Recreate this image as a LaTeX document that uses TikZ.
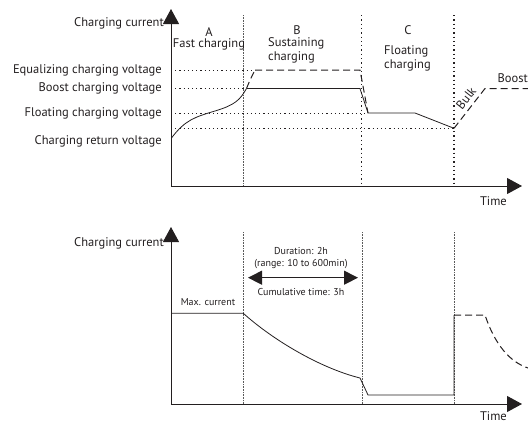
\documentclass[tikz,border=0pt]{standalone}
\usepackage{fontspec}
\setmainfont{PT Sans}
\usetikzlibrary{arrows.meta,calc,positioning}
\definecolor{ink}{HTML}{231F20}
\definecolor{muted}{HTML}{5A5A5A}
\tikzset{
  lbl/.style={font=\fontsize{12.5}{14}\selectfont,text=ink,inner sep=0pt},
  note/.style={font=\fontsize{10}{12.3}\selectfont,text=ink,inner sep=0pt},
  axis/.style={-{Triangle[length=15pt,width=16pt]},line width=1pt,draw=ink},
  curve/.style={line width=0.8pt,draw=ink},
  dashcurve/.style={line width=1pt,draw=ink,dash pattern=on 7pt off 4pt},
  level/.style={draw=ink,line width=0.8pt,dash pattern=on 1.2pt off 3pt},
  phase/.style={draw=ink,line width=1.3pt,dash pattern=on 1.3pt off 3pt},
  finephase/.style={draw=muted,line width=0.4pt,dash pattern=on 0.6pt off 1pt},
  span/.style={{Triangle[length=14pt,width=14pt]}-{Triangle[length=14pt,width=14pt]},line width=1pt,draw=ink}
}
\begin{document}
\begin{tikzpicture}[x=1pt,y=-1pt]
  \useasboundingbox (0,0) rectangle (528,423);
  % upper chart: voltage levels
  \coordinate (o1) at (171,186);
  \coordinate (ab1) at (243.3,15);
  \coordinate (bc1) at (361.7,15);
  \coordinate (cd1) at (454,15);
  \draw[finephase] (ab1) -- (ab1 |- o1);
  \draw[phase] (bc1) -- (bc1 |- o1);
  \draw[phase] (cd1) -- (cd1 |- o1);
  \draw[axis] (o1) -- (171,9);
  \draw[axis] (o1) -- (522,186);
  \node[lbl,anchor=east] (ylab1) at (164,23) {Charging current};
  \node[lbl,anchor=north east] (xlab1) at (507,196) {Time};
  \node[lbl,anchor=east] (equ) at (162,70) {Equalizing charging voltage};
  \node[lbl,anchor=east] (bst) at (162,88.5) {Boost charging voltage};
  \node[lbl,anchor=east] (flt) at (162,113) {Floating charging voltage};
  \node[lbl,anchor=east] (ret) at (162,141) {Charging return voltage};
  \node[lbl] (phA) at (209,32) {A};
  \node[lbl,below=2pt of phA] (txA) {Fast charging};
  \node[lbl] (phB) at (297,30) {B};
  \node[lbl,anchor=north west,align=left] (txB) at (268,37) {Sustaining\\charging};
  \node[lbl] (phC) at (408,30) {C};
  \node[lbl,anchor=north west,align=left] (txC) at (384,45) {Floating\\charging};
  \coordinate (eq0) at (171,70);   \coordinate (eq1) at (255,70);
  \coordinate (bs0) at (171,88.5); \coordinate (bs1) at (246.5,88.5);
  \coordinate (fl0) at (171,113);  \coordinate (fl1) at (368,113);
  \coordinate (rt0) at (171,128.3); \coordinate (rt1) at (454,128.3);
  \draw[level] (eq0) -- (eq1);
  \draw[level] (bs0) -- (bs1);
  \draw[level] (fl0) -- (fl1);
  \draw[level] (rt0) -- (rt1);
  \draw[curve] (171.5,138) .. controls (185,120) and (195,117) .. (215,111)
    .. controls (235,105) and (240,100) .. (bs1);
  \draw[dashcurve] (bs1) .. controls (250,80) .. (eq1);
  \draw[curve] (bs1) -- (360,88.5) -- (fl1) -- (415,113) -- (rt1);
  \draw[dashcurve] (eq1) -- (360,70) -- (fl1);
  \coordinate (bk1) at (485,88.5);
  \draw[dashcurve] (rt1) -- (bk1) -- (528,88.5);
  \node[lbl,rotate=52] (bulk) at (466,98) {Bulk};
  \node[lbl,anchor=east] (boost) at (528,78) {Boost};
  % lower chart: current
  \coordinate (o2) at (171,404);
  \coordinate (ab2) at (243.3,232);
  \coordinate (bc2) at (361.7,232);
  \coordinate (cd2) at (454,232);
  \draw[finephase] (ab2) -- (ab2 |- o2);
  \draw[finephase] (bc2) -- (bc2 |- o2);
  \draw[finephase] (cd2) -- (cd2 |- o2);
  \draw[axis] (o2) -- (171,227);
  \draw[axis] (o2) -- (522,404);
  \node[lbl,anchor=east] (ylab2) at (164,243) {Charging current};
  \node[lbl,anchor=north east] (xlab2) at (507,411.5) {Time};
  \node[note,anchor=south] (maxi) at (208,306) {Max. current};
  \coordinate (m0) at (171,313.3);
  \coordinate (m1) at (243.3,313.3);
  \coordinate (m2) at (360,378);
  \coordinate (m3) at (368,395);
  \coordinate (m4) at (454,395);
  \coordinate (m5) at (454,315);
  \draw[curve] (m0) -- (m1) .. controls (273,340) and (320,368) .. (m2) -- (m3) -- (m4) -- (m5);
  \draw[dashcurve] (m5) -- (485,315) .. controls (495,345) and (510,362) .. (528,368);
  \coordinate (sp0) at (248,277.7);
  \coordinate (sp1) at (358,277.7);
  \draw[span] (sp0) -- (sp1);
  \node[note,align=center,anchor=south] (dur) at (301,269) {Duration: 2h\\(range: 10 to 600min)};
  \node[note,anchor=north] (cum) at (301,288) {Cumulative time: 3h};
\end{tikzpicture}
\end{document}
